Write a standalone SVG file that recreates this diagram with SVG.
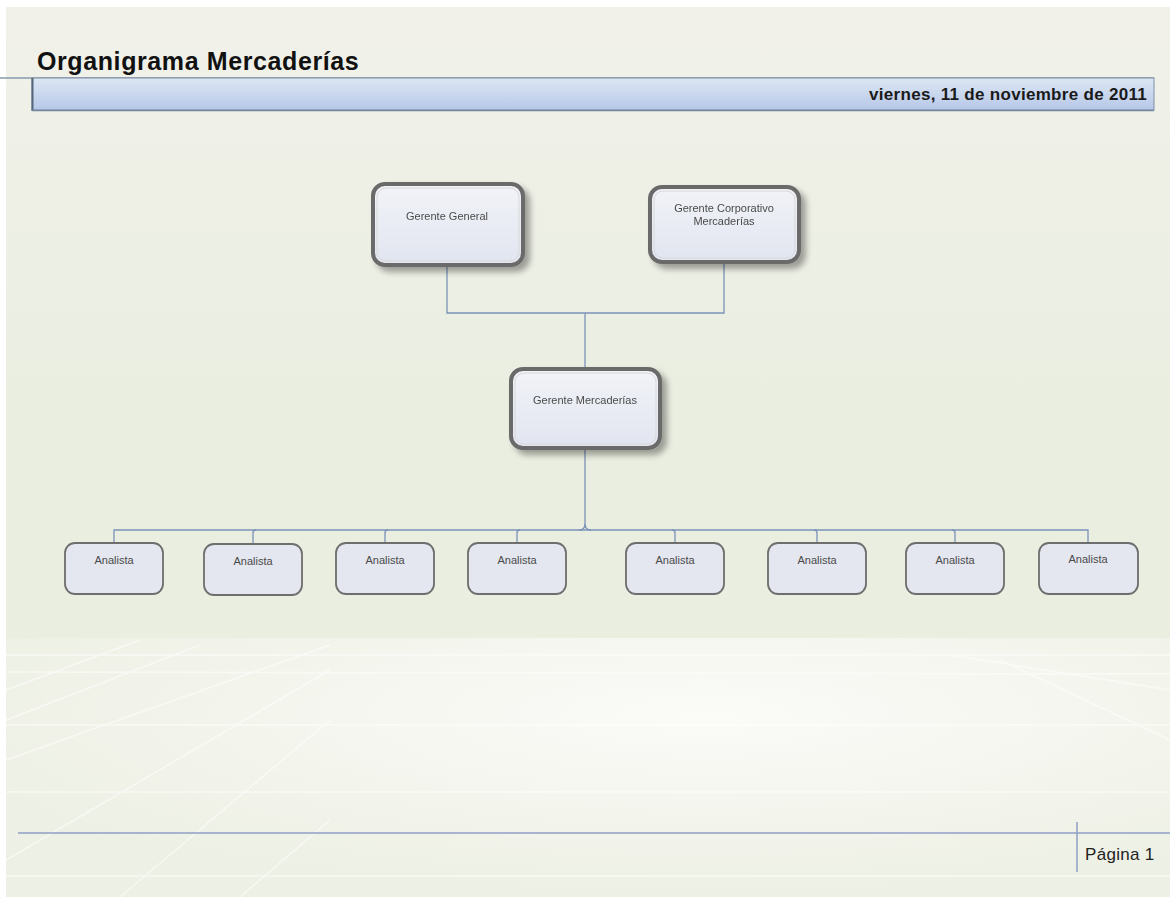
<svg xmlns="http://www.w3.org/2000/svg" width="1170" height="903" viewBox="0 0 1170 903">
<defs>
<linearGradient id="bg" x1="0" y1="0" x2="0" y2="1">
<stop offset="0" stop-color="#f1f1ea"/>
<stop offset="0.5" stop-color="#e9eee0"/>
<stop offset="1" stop-color="#ebefe0"/>
</linearGradient>
<radialGradient id="floor" cx="0.6" cy="0.3" r="0.7">
<stop offset="0" stop-color="#fbfbf8"/>
<stop offset="1" stop-color="#edf0e4"/>
</radialGradient>
<linearGradient id="bar" x1="0" y1="0" x2="0" y2="1">
<stop offset="0" stop-color="#dde7f3"/>
<stop offset="1" stop-color="#b6c7e8"/>
</linearGradient>
<linearGradient id="nodefill" x1="0" y1="0" x2="0" y2="1">
<stop offset="0" stop-color="#f2f3f8"/>
<stop offset="1" stop-color="#e1e5f0"/>
</linearGradient>
<filter id="sh" x="-20%" y="-20%" width="150%" height="150%">
<feGaussianBlur in="SourceAlpha" stdDeviation="3"/>
<feOffset dx="5" dy="5"/>
<feComponentTransfer><feFuncA type="linear" slope="0.35"/></feComponentTransfer>
<feMerge><feMergeNode/><feMergeNode in="SourceGraphic"/></feMerge>
</filter>
</defs>
<style>
.big{fill:url(#nodefill);stroke:#6a6a6a;stroke-width:4}
.inner{fill:none;stroke:#d8d8d8;stroke-width:1}
.small{fill:#e4e7f0;stroke:#6e6e6e;stroke-width:1.8}
.lbl{font-family:"Liberation Sans",Arial,sans-serif;font-size:11px;fill:#4a4a4a;text-anchor:middle}
.conn{fill:none;stroke:#7b93b8;stroke-width:1.3}
.grid{stroke:#ffffff;stroke-width:1.5;opacity:0.55;fill:none}
</style>
<rect x="0" y="0" width="1170" height="903" fill="#ffffff"/>
<rect x="6" y="7" width="1164" height="890" fill="url(#bg)"/>
<rect x="6" y="638" width="1164" height="259" fill="url(#floor)"/>
<g class="grid">
<line x1="6" y1="655" x2="1170" y2="655"/>
<line x1="6" y1="672" x2="1170" y2="674"/>
<line x1="6" y1="725" x2="1170" y2="725"/>
<line x1="6" y1="792" x2="1170" y2="792"/>
<line x1="6" y1="876" x2="1170" y2="876"/>
<line x1="6" y1="690" x2="140" y2="640"/>
<line x1="6" y1="720" x2="200" y2="645"/>
<line x1="6" y1="760" x2="330" y2="645"/>
<line x1="6" y1="860" x2="330" y2="670"/>
<line x1="120" y1="897" x2="330" y2="720"/>
<line x1="240" y1="897" x2="330" y2="820"/>
<line x1="950" y1="655" x2="1170" y2="690"/>
<line x1="1000" y1="660" x2="1170" y2="740"/>
</g>
<g id="header">
<line x1="0" y1="78" x2="1154" y2="78" stroke="#8a98ad" stroke-width="1.5"/>
<rect x="32" y="78" width="1122" height="32" fill="url(#bar)" stroke="#7f8ea6" stroke-width="1"/>
<line x1="32.5" y1="78" x2="32.5" y2="111" stroke="#55657a" stroke-width="2"/>
<line x1="32" y1="110.5" x2="1154" y2="110.5" stroke="#7687a0" stroke-width="1.5"/>
<text x="37" y="70" font-family="Liberation Sans,Arial,sans-serif" font-size="25" font-weight="bold" fill="#111" letter-spacing="0.6">Organigrama Mercaderías</text>
<text x="1147" y="100" font-family="Liberation Sans,Arial,sans-serif" font-size="17" font-weight="bold" fill="#1a1a1a" text-anchor="end" letter-spacing="0.3">viernes, 11 de noviembre de 2011</text>
</g>
<g id="footer">
<line x1="18" y1="833" x2="1170" y2="833" stroke="#8f9fc4" stroke-width="1.5"/>
<line x1="1077" y1="822" x2="1077" y2="872" stroke="#8f9fc4" stroke-width="1.5"/>
<text x="1085" y="860" font-family="Liberation Sans,Arial,sans-serif" font-size="17" fill="#222" letter-spacing="0.3">Página 1</text>
</g>
<g id="connectors">
<path class="conn" d="M447 265 V313 H724 V262"/>
<path class="conn" d="M585 313 V368"/>
<path class="conn" d="M585 448 V524 Q585 530 579 530"/>
<path class="conn" d="M585 524 Q585 530 591 530"/>
<path class="conn" d="M114 543 V530 H1088 V543"/>
<path class="conn" d="M253 543 V533 Q253 530 256 530"/>
<path class="conn" d="M385 543 V533 Q385 530 388 530"/>
<path class="conn" d="M517 543 V533 Q517 530 520 530"/>
<path class="conn" d="M675 543 V533 Q675 530 672 530"/>
<path class="conn" d="M817 543 V533 Q817 530 814 530"/>
<path class="conn" d="M955 543 V533 Q955 530 952 530"/>
</g>
<g id="gerente-general" filter="url(#sh)">
<rect class="big" x="373" y="184" width="150" height="81" rx="12"/>
<rect class="inner" x="377" y="188" width="142" height="73" rx="9"/>
<text class="lbl" x="447" y="220">Gerente General</text>
</g>
<g id="gerente-corporativo" filter="url(#sh)">
<rect class="big" x="650" y="187" width="149" height="75" rx="12"/>
<rect class="inner" x="654" y="191" width="141" height="67" rx="9"/>
<text class="lbl" x="724" y="212">Gerente Corporativo</text>
<text class="lbl" x="724" y="225">Mercaderías</text>
</g>
<g id="gerente-mercaderias" filter="url(#sh)">
<rect class="big" x="511" y="369" width="149" height="79" rx="12"/>
<rect class="inner" x="515" y="373" width="141" height="71" rx="9"/>
<text class="lbl" x="585" y="404">Gerente Mercaderías</text>
</g>
<g id="analista-1"><rect class="small" x="65" y="543" width="98" height="51" rx="10"/><text class="lbl" x="114" y="564">Analista</text></g>
<g id="analista-2"><rect class="small" x="204" y="544" width="98" height="51" rx="10"/><text class="lbl" x="253" y="565">Analista</text></g>
<g id="analista-3"><rect class="small" x="336" y="543" width="98" height="51" rx="10"/><text class="lbl" x="385" y="564">Analista</text></g>
<g id="analista-4"><rect class="small" x="468" y="543" width="98" height="51" rx="10"/><text class="lbl" x="517" y="564">Analista</text></g>
<g id="analista-5"><rect class="small" x="626" y="543" width="98" height="51" rx="10"/><text class="lbl" x="675" y="564">Analista</text></g>
<g id="analista-6"><rect class="small" x="768" y="543" width="98" height="51" rx="10"/><text class="lbl" x="817" y="564">Analista</text></g>
<g id="analista-7"><rect class="small" x="906" y="543" width="98" height="51" rx="10"/><text class="lbl" x="955" y="564">Analista</text></g>
<g id="analista-8"><rect class="small" x="1039" y="543" width="99" height="51" rx="10"/><text class="lbl" x="1088" y="563">Analista</text></g>
</svg>
